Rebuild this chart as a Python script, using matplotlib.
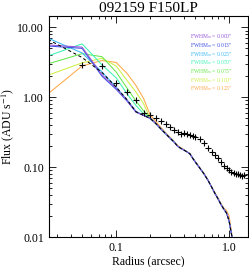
import matplotlib
matplotlib.use("Agg")
import matplotlib.pyplot as plt
from matplotlib.ticker import FixedLocator, NullFormatter

plt.rcParams["font.family"] = ["Liberation Serif", "DejaVu Serif"]
plt.rcParams["mathtext.fontset"] = "stix"

# observed profile (crosses)
obs_r = [0.05, 0.075, 0.1, 0.125, 0.15, 0.175, 0.2, 0.225, 0.25, 0.275, 0.3,
         0.325, 0.35, 0.375, 0.4, 0.425, 0.45, 0.475, 0.5, 0.55, 0.6, 0.65,
         0.7, 0.75, 0.8, 0.85, 0.9, 0.95, 1.0, 1.05, 1.1, 1.15, 1.2, 1.25,
         1.3, 1.35]
obs_f = [2.88, 2.76, 1.61, 1.18, 0.90, 0.60, 0.56, 0.50, 0.45, 0.41, 0.37,
         0.34, 0.32, 0.30, 0.31, 0.30, 0.29, 0.28, 0.27, 0.25, 0.22, 0.19,
         0.165, 0.15, 0.135, 0.12, 0.105, 0.097, 0.09, 0.085, 0.082, 0.08,
         0.08, 0.078, 0.076, 0.077]

# model radii
head_r = [0.025, 0.05, 0.075, 0.1, 0.125, 0.15, 0.175]
tail_r = [0.2, 0.225, 0.25, 0.275, 0.3, 0.325, 0.35, 0.375, 0.4, 0.425,
          0.45, 0.475, 0.5, 0.55, 0.6, 0.65, 0.7, 0.75, 0.8, 0.85, 0.9,
          0.95, 1.0, 1.05, 1.1]
tail_f = [0.50, 0.42, 0.35, 0.30, 0.26, 0.23, 0.20, 0.185, 0.175, 0.165,
          0.155, 0.135, 0.12, 0.097, 0.08, 0.065, 0.052, 0.042, 0.035, 0.029,
          0.025, 0.022, 0.017, 0.011, 0.007]
# the widest model sits a little above the others in the wings
tail_f_wide = [0.56, 0.45, 0.37, 0.31, 0.27, 0.235, 0.205, 0.19, 0.178,
               0.167, 0.156, 0.137, 0.122, 0.099, 0.082, 0.066, 0.053, 0.043,
               0.036, 0.030, 0.026, 0.024, 0.020, 0.012, 0.007]

fwhm_labels = ["0.000", "0.013", "0.025", "0.050", "0.075", "0.100", "0.125"]
model_colors = ["#9455d8", "#3c4ee6", "#38b8f4", "#3ef2b4", "#66e84a",
                "#cdf044", "#ffa84a"]
head_f = [
    [5.6, 5.2, 2.1, 1.35, 0.90, 0.62, 0.55],
    [5.4, 5.0, 2.0, 1.30, 0.88, 0.61, 0.55],
    [7.0, 4.3, 2.3, 1.40, 0.92, 0.63, 0.55],
    [3.9, 5.8, 2.9, 1.90, 1.12, 0.76, 0.58],
    [3.0, 4.2, 3.8, 2.30, 1.35, 0.88, 0.64],
    [2.07, 3.1, 3.6, 2.80, 1.74, 1.18, 0.81],
    [1.12, 2.8, 3.35, 3.15, 2.19, 1.47, 0.96],
]
# black dashed profile
dash_f = [6.7, 3.7, 2.26, 1.40, 0.92, 0.62, 0.55]

fig = plt.figure(figsize=(2.49, 2.67), dpi=100)
ax = fig.add_axes([0.197, 0.112, 0.799, 0.828])

n = len(head_f)
for i in range(n - 1, -1, -1):
    tail = tail_f_wide if i == n - 1 else tail_f
    ax.plot(head_r + tail_r, head_f[i] + tail, color=model_colors[i], lw=0.75)
ax.plot(head_r + tail_r, dash_f + tail_f, color="black", lw=0.75,
        ls=(0, (3, 2.5)))
ax.plot(obs_r, obs_f, "k+", ms=5, mew=0.8)

ax.set_xscale("log")
ax.set_yscale("log")
ax.set_xlim(0.0255, 1.47)
ax.set_ylim(0.01, 14.5)

ax.xaxis.set_major_locator(FixedLocator([0.1, 1.0]))
ax.set_xticklabels(["0.1", "1.0"])
ax.xaxis.set_minor_locator(FixedLocator(
    [0.03, 0.04, 0.05, 0.06, 0.07, 0.08, 0.09,
     0.2, 0.3, 0.4, 0.5, 0.6, 0.7, 0.8, 0.9]))
ax.xaxis.set_minor_formatter(NullFormatter())
ax.yaxis.set_major_locator(FixedLocator([0.01, 0.1, 1.0, 10.0]))
ax.set_yticklabels(["0.01", "0.10", "1.00", "10.00"])
ax.yaxis.set_minor_locator(FixedLocator(
    [k * 10.0 ** e for e in (-2, -1, 0) for k in range(2, 10)]))
ax.yaxis.set_minor_formatter(NullFormatter())

ax.tick_params(which="both", direction="in", top=True, right=True,
               labelsize=8.5, width=0.6)
ax.tick_params(which="major", length=5)
ax.tick_params(which="minor", length=2.5)
for s in ax.spines.values():
    s.set_linewidth(0.8)

ax.set_xlabel("Radius (arcsec)", fontsize=8.5, labelpad=1)
ax.set_ylabel("Flux (ADU s$^{-1}$)", fontsize=8.5, labelpad=1)
ax.set_title("092159 F150LP", fontsize=11, pad=3)

for i, (lab, c) in enumerate(zip(fwhm_labels, model_colors)):
    ax.text(0.71, 0.905 - i * 0.039, "FWHM$_{m}$ = " + lab + '"',
            color=c, fontsize=4, transform=ax.transAxes, va="center")

fig.savefig("out.png", dpi=100)
